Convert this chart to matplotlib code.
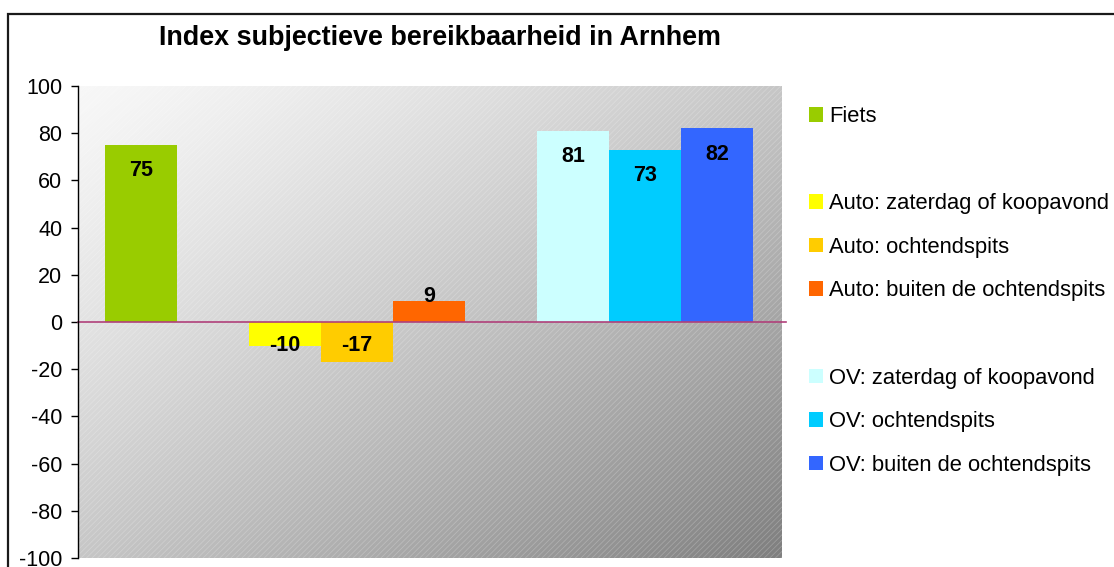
import numpy as np
import matplotlib
matplotlib.use("Agg")
import matplotlib.pyplot as plt
from matplotlib.patches import Rectangle

plt.rcParams["font.family"] = ["Liberation Sans", "DejaVu Sans"]
plt.rcParams["hatch.linewidth"] = 0.6
plt.rcParams["axes.unicode_minus"] = False

series = ["Fiets", "",
          "Auto: zaterdag of koopavond", "Auto: ochtendspits", "Auto: buiten de ochtendspits", "",
          "OV: zaterdag of koopavond", "OV: ochtendspits", "OV: buiten de ochtendspits"]
values = [75, None, -10, -17, 9, None, 81, 73, 82]
colors = ["#99cc00", None, "#ffff00", "#ffcc00", "#ff6600", None, "#ccffff", "#00ccff", "#3366ff"]
yticks = [-100, -80, -60, -40, -20, 0, 20, 40, 60, 80, 100]

fig = plt.figure(figsize=(11.14, 5.67), dpi=100)
ax = fig.add_axes([78 / 1114, 9 / 567, 704 / 1114, 472 / 567])

# diagonal grey gradient background
n = 300
gx, gy = np.meshgrid(np.linspace(0, 1, n), np.linspace(0, 1, n))
t = ((gx + gy) / 2) ** 1.3
ax.imshow(t, cmap=matplotlib.colors.LinearSegmentedColormap.from_list("g", ["#f7f7f7", "#7f7f7f"]),
          extent=[0, 1, 0, 1], transform=ax.transAxes, aspect="auto", zorder=0, vmin=0, vmax=1)
ax.add_patch(Rectangle((0, 0), 1, 1, transform=ax.transAxes, facecolor="none",
                       edgecolor=(1, 1, 1, 0.22), hatch="//////", lw=0, zorder=0.5))

handles = []
for i, (v, c) in enumerate(zip(values, colors)):
    if v is None:
        handles.append(Rectangle((0, 0), 1, 1, facecolor="none", edgecolor="none"))
        continue
    b = ax.bar(i, v, width=1.0, color=c, zorder=2)
    handles.append(b[0])
    if v >= 20:
        ly = v - 11
    elif v > 0:
        ly = v + 2
    else:
        ly = -10
    ax.text(i, ly, str(v), ha="center", va="center", fontsize=15.5, fontweight="bold", zorder=3)

ax.axhline(0, color="#b0407a", lw=1.2, zorder=2.5, xmax=1.006, clip_on=False)

ax.set_xlim(-0.5 - 0.375, 8.5 + 0.4)
ax.set_ylim(-100, 100)
ax.set_yticks(yticks)
ax.tick_params(axis="y", labelsize=15.5, length=5, width=1, pad=6.2)
ax.set_xticks([])
for s in ["top", "right", "bottom"]:
    ax.spines[s].set_visible(False)
ax.spines["left"].set_linewidth(1)

fig.text(440 / 1114, 1 - 38 / 567, "Index subjectieve bereikbaarheid in Arnhem",
         ha="center", va="center", fontsize=19.4, fontweight="bold")

fig.legend(handles, series, loc="upper left", bbox_to_anchor=(809 / 1114, 1 - 106 / 567),
           frameon=False, fontsize=15.8, handlelength=0.64, handleheight=0.64,
           handletextpad=0.28, labelspacing=1.03, borderpad=0, borderaxespad=0)

# outer chart border
fig.add_artist(Rectangle((8 / 1114, -0.1), 1.2, 1 - 14 / 567 + 0.1, transform=fig.transFigure,
                         facecolor="none", edgecolor="#1a1a1a", lw=1.6, clip_on=False))

fig.savefig("out.png", dpi=100)
